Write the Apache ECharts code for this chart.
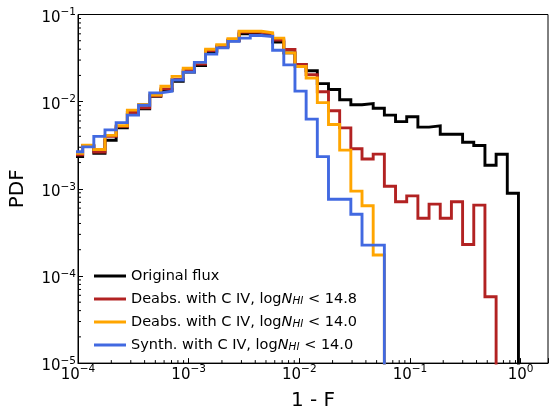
<!DOCTYPE html>
<html>
<head>
<meta charset="utf-8">
<script src="https://cdn.jsdelivr.net/npm/echarts@6/dist/echarts.min.js"></script>
<style>
  html, body { margin: 0; padding: 0; background: #fff; }
  #chart { width: 552px; height: 416px; }
</style>
</head>
<body>
<div id="chart"></div>
<script>
// bin edges, log10(1 - F)
const logEdges = [
  -4.059, -3.958, -3.857, -3.756, -3.655, -3.554, -3.453, -3.352, -3.251, -3.150,
  -3.049, -2.948, -2.847, -2.746, -2.645, -2.544, -2.443, -2.342, -2.241, -2.140,
  -2.039, -1.938, -1.837, -1.736, -1.635, -1.534, -1.433, -1.332, -1.231, -1.130,
  -1.029, -0.928, -0.827, -0.726, -0.625, -0.524, -0.423, -0.322, -0.221, -0.120,
  -0.019
];

// PDF per bin (bin i spans logEdges[i] .. logEdges[i+1])
const originalFlux = [
  2.34e-3, 3.1e-3, 2.55e-3, 3.6e-3, 5.0e-3, 7.2e-3, 8.3e-3, 1.15e-2, 1.34e-2, 1.71e-2,
  2.18e-2, 2.6e-2, 3.73e-2, 4.25e-2, 5.0e-2, 6.0e-2, 5.85e-2, 5.8e-2, 4.83e-2, 3.63e-2,
  2.68e-2, 2.26e-2, 1.61e-2, 1.38e-2, 1.05e-2, 9.2e-3, 9.5e-3, 8.4e-3, 7.0e-3, 5.9e-3,
  6.7e-3, 5.1e-3, 5.27e-3, 4.22e-3, 4.22e-3, 3.42e-3, 3.14e-3, 1.86e-3, 2.49e-3, 8.9e-4
];
const deabs148 = [
  2.45e-3, 3.1e-3, 2.64e-3, 4.0e-3, 5.2e-3, 7.5e-3, 8.5e-3, 1.17e-2, 1.4e-2, 1.8e-2,
  2.3e-2, 2.7e-2, 3.85e-2, 4.35e-2, 5.1e-2, 6.3e-2, 6.3e-2, 6.0e-2, 5.1e-2, 3.96e-2,
  2.68e-2, 2.04e-2, 1.3e-2, 7.85e-3, 5.0e-3, 2.88e-3, 2.2e-3, 2.5e-3, 1.07e-3, 7.1e-4,
  8.3e-4, 4.6e-4, 6.67e-4, 4.6e-4, 7.1e-4, 2.3e-4, 6.5e-4, 5.77e-5
];
const deabs140 = [
  2.56e-3, 3.16e-3, 2.83e-3, 4.1e-3, 5.3e-3, 8.0e-3, 9.3e-3, 1.19e-2, 1.5e-2, 1.95e-2,
  2.42e-2, 2.82e-2, 4.0e-2, 4.5e-2, 5.27e-2, 6.43e-2, 6.43e-2, 6.16e-2, 5.36e-2, 3.63e-2,
  2.53e-2, 1.87e-2, 9.75e-3, 5.46e-3, 2.78e-3, 9.4e-4, 6.4e-4, 1.74e-4
];
const synth140 = [
  2.66e-3, 3.03e-3, 4.0e-3, 4.75e-3, 5.75e-3, 7.0e-3, 9.1e-3, 1.26e-2, 1.32e-2, 1.77e-2,
  2.18e-2, 2.82e-2, 3.51e-2, 4.14e-2, 4.92e-2, 5.36e-2, 5.74e-2, 5.6e-2, 3.89e-2, 2.64e-2,
  1.32e-2, 6.3e-3, 2.34e-3, 7.6e-4, 7.6e-4, 5.1e-4, 2.26e-4, 2.26e-4
];

const seriesNames = ['orig', 'd148', 'd140', 's140'];
const seriesLabels = [
  'Original flux',
  'Deabs. with C IV, log{i|N}{sub|HI} < 14.8',
  'Deabs. with C IV, log{i|N}{sub|HI} < 14.0',
  'Synth. with C IV, log{i|N}{sub|HI} < 14.0'
];
const seriesColors = ['#000000', '#b22222', '#ffa500', '#4169e1'];
const seriesValues = [originalFlux, deabs148, deabs140, synth140];

const FONT = 'DejaVu Sans';

// step points: left edge of each bin, then drop at the last right edge
function stepData(vals) {
  const pts = vals.map((v, i) => [Math.pow(10, logEdges[i]), v]);
  pts.push([Math.pow(10, logEdges[vals.length]), 1e-9]);
  return pts;
}

function powLabel(value) {
  const e = Math.log10(value);
  if (Math.abs(e - Math.round(e)) > 1e-6) return '';
  const r = Math.round(e);
  return '10{sup|' + (r < 0 ? '\u2212' + (-r) : r) + '}';
}

const chart = echarts.init(document.getElementById('chart'), null, { renderer: 'canvas' });

const option = {
  animation: false,
  grid: { left: 77, top: 12, right: 4, bottom: 49, show: true, borderColor: '#000', borderWidth: 1 },
  xAxis: {
    type: 'log', logBase: 10, min: 1e-4, max: 1.77, interval: 1,
    name: '1 - F', nameLocation: 'middle', nameGap: 23,
    nameTextStyle: { fontFamily: FONT, fontSize: 20, color: '#000' },
    axisLine: { lineStyle: { color: '#000', width: 1 } },
    axisTick: { inside: true, length: 5, lineStyle: { color: '#000' } },
    splitLine: { show: false },
    axisLabel: {
      formatter: powLabel, margin: 1, fontFamily: FONT, fontSize: 15, lineHeight: 22, color: '#000',
      rich: { sup: { fontFamily: FONT, fontSize: 10.5, lineHeight: 10, verticalAlign: 'top', color: '#000' } }
    }
  },
  yAxis: {
    type: 'log', logBase: 10, min: 1e-5, max: 1e-1, interval: 1,
    name: 'PDF', nameLocation: 'middle', nameGap: 50,
    nameTextStyle: { fontFamily: FONT, fontSize: 20, color: '#000' },
    axisLine: { lineStyle: { color: '#000', width: 1 } },
    axisTick: { inside: true, length: 5, lineStyle: { color: '#000' } },
    splitLine: { show: false },
    axisLabel: {
      formatter: powLabel, margin: 2, fontFamily: FONT, fontSize: 15, lineHeight: 22, color: '#000',
      padding: [7, 0, 0, 0],
      rich: { sup: { fontFamily: FONT, fontSize: 10.5, lineHeight: 10, verticalAlign: 'top', color: '#000' } }
    }
  },
  legend: {
    orient: 'vertical', left: 89, top: 263,
    itemWidth: 32, itemHeight: 3, itemGap: 7,
    icon: 'rect',
    data: seriesNames,
    formatter: name => seriesLabels[seriesNames.indexOf(name)],
    textStyle: {
      fontFamily: FONT, fontSize: 14.5, lineHeight: 16, color: '#000', padding: [0, 0, 0, 0],
      rich: {
        i: { fontFamily: FONT, fontSize: 14.5, fontStyle: 'italic', lineHeight: 16, color: '#000' },
        sub: { fontFamily: FONT, fontSize: 10.5, fontStyle: 'italic', lineHeight: 6, verticalAlign: 'bottom', color: '#000' }
      }
    }
  },
  series: seriesNames.map((n, k) => ({
    name: n,
    type: 'line',
    step: 'end',
    showSymbol: false,
    symbol: 'none',
    color: seriesColors[k],
    lineStyle: { color: seriesColors[k], width: 2.9, join: 'miter' },
    data: stepData(seriesValues[k]),
    z: 2 + k
  }))
};

chart.setOption(option);

// log minor ticks, placed through the axes
function drawMinorTicks() {
  const els = [];
  const bottom = chart.convertToPixel({ yAxisIndex: 0 }, 1e-5);
  const left = chart.convertToPixel({ xAxisIndex: 0 }, 1e-4);
  for (let d = -4; d <= 0; d++) {
    for (let m = 2; m <= 9; m++) {
      const v = m * Math.pow(10, d);
      if (v > 1.77) continue;
      const px = chart.convertToPixel({ xAxisIndex: 0 }, v);
      els.push({ type: 'line', shape: { x1: px, y1: bottom, x2: px, y2: bottom - 3 }, style: { stroke: '#000', lineWidth: 1 }, silent: true });
    }
  }
  for (let d = -5; d <= -2; d++) {
    for (let m = 2; m <= 9; m++) {
      const v = m * Math.pow(10, d);
      const py = chart.convertToPixel({ yAxisIndex: 0 }, v);
      els.push({ type: 'line', shape: { x1: left, y1: py, x2: left + 3, y2: py }, style: { stroke: '#000', lineWidth: 1 }, silent: true });
    }
  }
  chart.setOption({ graphic: els });
}
drawMinorTicks();
</script>
</body>
</html>
